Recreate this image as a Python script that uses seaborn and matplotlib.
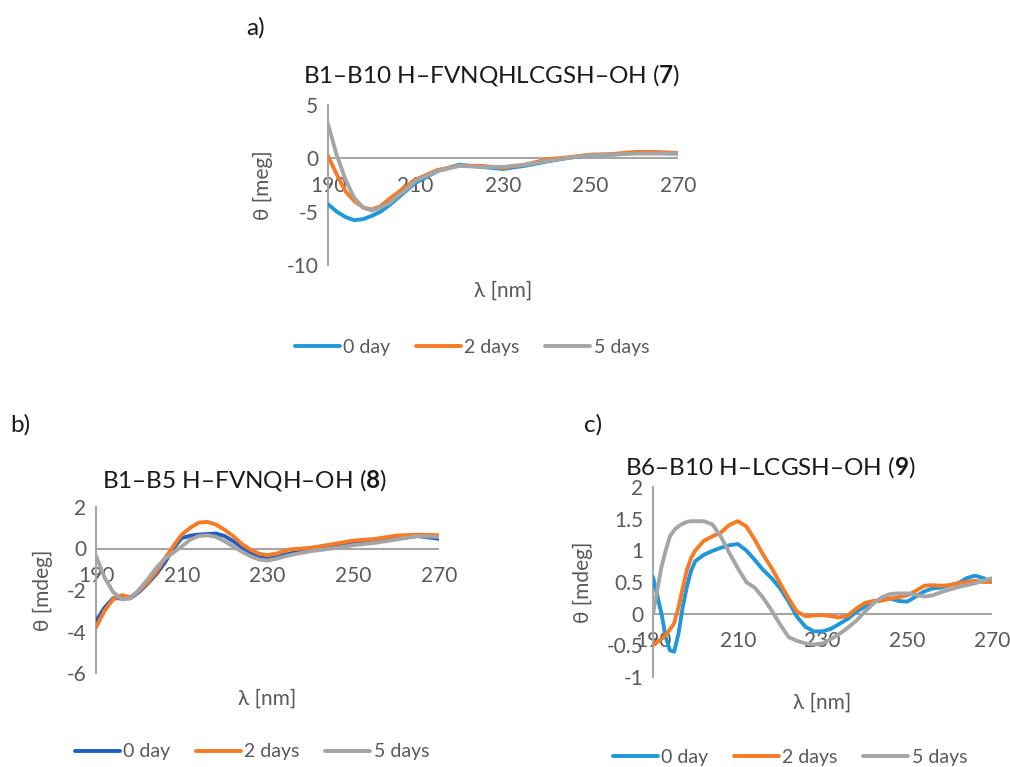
"""
CD spectra of peptides 7, 8 and 9 after 0, 2 and 5 days.
"""
import pandas as pd
import matplotlib
matplotlib.use("Agg")
import matplotlib.pyplot as plt
import seaborn as sns

# ---- data ----
SERIES = ["0 day", "2 days", "5 days"]

# panel a: B1-B10 H-FVNQHLCGSH-OH (7)
wl_a = [190, 192, 194, 196, 198, 200, 202, 204, 206, 208, 210,
        215, 220, 225, 230, 235, 240, 245, 250, 255, 260, 265, 270]
a_day0 = [-4.3, -5.0, -5.5, -5.8, -5.7, -5.4, -5.0, -4.4, -3.7, -3.0, -2.3,
          -1.2, -0.6, -0.8, -1.0, -0.7, -0.3, 0.05, 0.3, 0.35, 0.5, 0.5, 0.45]
a_day2 = [0.2, -1.5, -3.1, -4.0, -4.6, -4.8, -4.5, -3.8, -3.2, -2.6, -2.0,
          -1.1, -0.7, -0.7, -0.9, -0.6, -0.1, 0.1, 0.35, 0.4, 0.6, 0.6, 0.5]
a_day5 = [3.2, 0.3, -2.0, -3.7, -4.6, -4.9, -4.6, -4.2, -3.5, -2.9, -2.1,
          -1.2, -0.7, -0.8, -0.8, -0.6, -0.25, 0.05, 0.3, 0.35, 0.45, 0.45, 0.45]

# panel b: B1-B5 H-FVNQH-OH (8)
wl_b = [190, 192, 194, 196, 198, 200, 202, 204, 206, 208, 210, 212, 214, 216,
        218, 220, 222, 224, 226, 228, 230, 232, 235, 240, 245, 250, 255, 260,
        265, 270]
b_day0 = [-3.5, -2.85, -2.4, -2.4, -2.4, -2.1, -1.7, -1.25, -0.7, 0.0, 0.5,
          0.62, 0.67, 0.7, 0.72, 0.6, 0.35, 0.06, -0.2, -0.4, -0.5, -0.42,
          -0.25, -0.05, 0.1, 0.27, 0.35, 0.48, 0.6, 0.47]
b_day2 = [-3.8, -3.0, -2.45, -2.25, -2.35, -2.05, -1.65, -1.15, -0.5, 0.1,
          0.67, 1.0, 1.25, 1.28, 1.15, 0.9, 0.6, 0.22, -0.05, -0.25, -0.32,
          -0.25, -0.05, 0.03, 0.2, 0.38, 0.46, 0.62, 0.67, 0.64]
b_day5 = [-0.35, -1.4, -2.1, -2.45, -2.4, -2.0, -1.5, -0.95, -0.5, -0.2, 0.1,
          0.43, 0.6, 0.64, 0.56, 0.35, 0.1, -0.15, -0.37, -0.53, -0.58, -0.5,
          -0.33, -0.13, 0.0, 0.16, 0.27, 0.43, 0.6, 0.56]

# panel c: B6-B10 H-LCGSH-OH (9)
wl_c = [190, 192, 193, 194, 195, 196, 197, 198, 199, 200, 202, 204, 206, 208,
        210, 212, 214, 216, 218, 220, 222, 224, 226, 228, 230, 232, 234, 236,
        238, 240, 242, 244, 246, 248, 250, 252, 254, 256, 258, 260, 262, 264,
        266, 268, 270]
c_day0 = [0.58, 0.0, -0.37, -0.58, -0.6, -0.32, 0.1, 0.43, 0.68, 0.83, 0.93,
          0.99, 1.04, 1.08, 1.1, 1.0, 0.85, 0.69, 0.56, 0.4, 0.19, -0.05,
          -0.21, -0.28, -0.28, -0.24, -0.16, -0.08, 0.03, 0.11, 0.19, 0.21,
          0.24, 0.2, 0.19, 0.27, 0.35, 0.4, 0.41, 0.45, 0.48, 0.56, 0.6, 0.56,
          0.5]
c_day2 = [-0.5, -0.4, -0.33, -0.25, -0.15, 0.1, 0.4, 0.69, 0.88, 1.0, 1.15,
          1.22, 1.28, 1.4, 1.46, 1.38, 1.17, 0.93, 0.72, 0.48, 0.24, 0.03,
          -0.04, -0.03, -0.02, -0.04, -0.06, -0.03, 0.08, 0.17, 0.2, 0.21,
          0.24, 0.26, 0.29, 0.36, 0.44, 0.45, 0.44, 0.45, 0.48, 0.5, 0.52,
          0.5, 0.5]
c_day5 = [0.0, 0.74, 1.0, 1.22, 1.32, 1.38, 1.42, 1.45, 1.46, 1.46, 1.46,
          1.41, 1.22, 0.96, 0.72, 0.5, 0.41, 0.25, 0.05, -0.17, -0.37, -0.43,
          -0.47, -0.49, -0.47, -0.4, -0.32, -0.22, -0.11, 0.03, 0.16, 0.26,
          0.31, 0.32, 0.32, 0.3, 0.27, 0.29, 0.34, 0.38, 0.42, 0.45, 0.48,
          0.52, 0.56]

XTICKS = [190, 210, 230, 250, 270]

# ---- style ----
sns.set_theme(style="white")
plt.rcParams["font.family"] = ["Lato", "DejaVu Sans"]
plt.rcParams["mathtext.fontset"] = "custom"
plt.rcParams["mathtext.rm"] = "Lato"
plt.rcParams["mathtext.bf"] = "Lato:bold"

GREY_TXT = "#595959"
AXIS_CLR = "#A6A6A6"
PAL_LIGHT = {"0 day": "#1F97DA", "2 days": "#F77A24", "5 days": "#A5A5A5"}
PAL_DARK = {"0 day": "#1F5FC2", "2 days": "#F77A24", "5 days": "#A5A5A5"}
LW = 2.8
TICK_FS = 15


def make_frame(wl, d0, d2, d5):
    df = pd.DataFrame({"wl": wl, "0 day": d0, "2 days": d2, "5 days": d5})
    return df.melt(id_vars="wl", var_name="series", value_name="theta")


def draw_panel(fig, rect, df, palette, ylim, yticks, ytick_labels, ylabel):
    ax = fig.add_axes(rect)
    ax.axhline(0, color=AXIS_CLR, lw=1.5, zorder=1)
    sns.lineplot(data=df, x="wl", y="theta", hue="series", hue_order=SERIES,
                 palette=palette, lw=LW, legend=False, ax=ax, zorder=3)
    ax.set_xlim(190, 270)
    ax.set_ylim(*ylim)
    ax.set_xticks(XTICKS)
    ax.set_xticklabels([])
    ax.set_yticks(yticks)
    ax.set_yticklabels(ytick_labels)
    for s in ["top", "right", "bottom"]:
        ax.spines[s].set_visible(False)
    ax.spines["left"].set_color(AXIS_CLR)
    ax.spines["left"].set_linewidth(1.5)
    ax.tick_params(axis="both", length=0, labelsize=TICK_FS, labelcolor=GREY_TXT)
    ax.tick_params(axis="y", pad=7)
    # x tick labels sit just below the zero line (Excel style)
    for t in XTICKS:
        ax.annotate(str(t), xy=(t, 0), xycoords="data", xytext=(0, -20),
                    textcoords="offset points", ha="center", va="center",
                    fontsize=TICK_FS, color=GREY_TXT, zorder=2)
    ax.set_xlabel("λ [nm]", fontsize=15, color=GREY_TXT, labelpad=8)
    ax.set_ylabel(ylabel, fontsize=15, color=GREY_TXT, labelpad=10)
    return ax


fig = plt.figure(figsize=(10.1, 7.67), dpi=100)
W, H = 1010, 767


def rect(x0, x1, ytop, ybot):
    return [x0 / W, 1 - ybot / H, (x1 - x0) / W, (ybot - ytop) / H]


ax_a = draw_panel(fig, rect(328, 678, 105, 265), make_frame(wl_a, a_day0, a_day2, a_day5),
                  PAL_LIGHT, (-10, 5), [-10, -5, 0, 5], ["-10", "-5", "0", "5"], "θ [meg]")
ax_b = draw_panel(fig, rect(96, 439, 507, 673), make_frame(wl_b, b_day0, b_day2, b_day5),
                  PAL_DARK, (-6, 2), [-6, -4, -2, 0, 2], ["-6", "-4", "-2", "0", "2"], "θ [mdeg]")
ax_c = draw_panel(fig, rect(653, 992, 487, 677), make_frame(wl_c, c_day0, c_day2, c_day5),
                  PAL_LIGHT, (-1, 2), [-1, -0.5, 0, 0.5, 1, 1.5, 2],
                  ["-1", "-0.5", "0", "0.5", "1", "1.5", "2"], "θ [mdeg]")

# titles and panel letters
TITLE_FS = 17.5
fig.text(492 / W, 1 - 75 / H, r"B1–B10 H–FVNQHLCGSH–OH ($\mathbf{7}$)", ha="center",
         va="center", fontsize=TITLE_FS, color="#1a1a1a")
fig.text(245 / W, 1 - 480 / H, r"B1–B5 H–FVNQH–OH ($\mathbf{8}$)", ha="center",
         va="center", fontsize=TITLE_FS, color="#1a1a1a")
fig.text(770 / W, 1 - 467 / H, r"B6–B10 H–LCGSH–OH ($\mathbf{9}$)", ha="center",
         va="center", fontsize=TITLE_FS, color="#1a1a1a")
for lbl, x, y in [("a)", 256, 28), ("b)", 20, 425), ("c)", 593, 425)]:
    fig.text(x / W, 1 - y / H, lbl, ha="center", va="center", fontsize=TITLE_FS,
             color="#1a1a1a")

# legends
for pal, cx, cy in [(PAL_LIGHT, 472, 347), (PAL_DARK, 252, 752), (PAL_LIGHT, 790, 757)]:
    handles = [plt.Line2D([], [], color=pal[s], lw=LW) for s in SERIES]
    leg = fig.legend(handles, SERIES, loc="center", bbox_to_anchor=(cx / W, 1 - cy / H),
                     ncol=3, frameon=False, fontsize=14, handlelength=2.3,
                     handletextpad=0.2, columnspacing=1.3)
    for t in leg.get_texts():
        t.set_color(GREY_TXT)

fig.savefig("out.png", dpi=100)
